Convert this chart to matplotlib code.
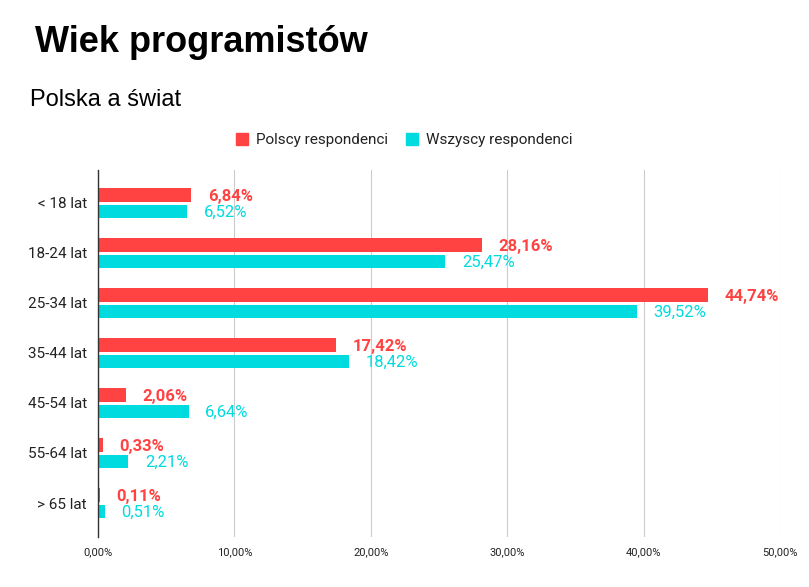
import matplotlib
matplotlib.use("Agg")
import matplotlib.pyplot as plt
import numpy as np
from matplotlib.patches import Patch

categories = ["< 18 lat", "18-24 lat", "25-34 lat", "35-44 lat", "45-54 lat", "55-64 lat", "> 65 lat"]
polish = [6.84, 28.16, 44.74, 17.42, 2.06, 0.33, 0.11]
everyone = [6.52, 25.47, 39.52, 18.42, 6.64, 2.21, 0.51]
series_names = ["Polscy respondenci", "Wszyscy respondenci"]
xticks = [0, 10, 20, 30, 40, 50]

RED = "#ff4343"
CYAN = "#00dbdf"

def pl(v, d=2):
    return f"{v:.{d}f}".replace(".", ",") + "%"

fig = plt.figure(figsize=(8.09, 5.87), dpi=100)
ax = fig.add_axes([98 / 809, 1 - 537 / 587, (780 - 98) / 809, (537 - 170) / 587])

y = np.arange(len(categories))
h = 0.27
ax.barh(y - 0.16, polish, height=h, color=RED, zorder=3)
ax.barh(y + 0.17, everyone, height=h, color=CYAN, zorder=3)

for yi, v in zip(y, polish):
    ax.annotate(pl(v), (v, yi - 0.14), xytext=(12, 0), textcoords="offset points",
                va="center", ha="left", color=RED, fontsize=12, fontweight="bold",
                family="Roboto")
for yi, v in zip(y, everyone):
    ax.annotate(pl(v), (v, yi + 0.19), xytext=(12, 0), textcoords="offset points",
                va="center", ha="left", color=CYAN, fontsize=12, family="Roboto")

ax.set_xlim(0, 50)
ax.set_ylim(6.68, -0.66)
ax.set_xticks(xticks)
ax.set_xticklabels([pl(t) for t in xticks], fontsize=8, family="Roboto", color="#222222")
ax.set_yticks(y)
ax.set_yticklabels(categories, fontsize=11, family="Roboto", color="#222222")
ax.tick_params(length=0, pad=8)
ax.tick_params(axis="x", pad=7)
ax.grid(axis="x", color="#cccccc", linewidth=0.8, zorder=0)
for s in ["top", "right", "bottom"]:
    ax.spines[s].set_visible(False)
ax.spines["left"].set_color("#333333")
ax.spines["left"].set_linewidth(1)
ax.spines["left"].set_zorder(4)

fig.text(35 / 809, 1 - 52 / 587, "Wiek programistów", fontsize=26, fontweight="bold",
         family="Liberation Sans", va="baseline")
fig.text(30 / 809, 1 - 106 / 587, "Polska a świat", fontsize=17,
         family="Liberation Sans", va="baseline")

handles = [Patch(color=RED), Patch(color=CYAN)]
fig.legend(handles, series_names, loc="center", bbox_to_anchor=(404 / 809, 1 - 140 / 587),
           ncol=2, frameon=False, prop={"family": "Roboto", "size": 11},
           handlelength=0.8, handleheight=0.8, handletextpad=0.5, columnspacing=1.2,
           labelcolor="#222222")

fig.savefig("out.png", dpi=100)
